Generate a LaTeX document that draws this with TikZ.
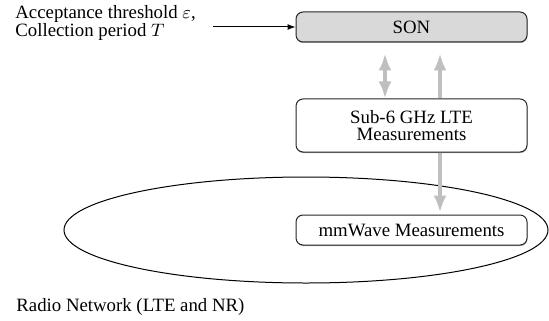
\documentclass[tikz,border=0pt]{standalone}
\usepackage{fontspec}
\setmainfont{Liberation Serif}
\usetikzlibrary{shapes.geometric,arrows.meta,shadows}
\begin{document}
\begin{tikzpicture}[x=0.5pt,y=-0.5pt,
  font=\fontsize{9.4}{8.9}\selectfont,
  box/.style={draw=black!85, rounded corners=3.5pt, minimum width=115.5pt, inner sep=0pt, align=center, line width=0.5pt,
    drop shadow={shadow xshift=0.2pt, shadow yshift=-0.5pt, opacity=0.5, fill=black!70}},
  garrow/.style={draw=black!25, line width=2pt},
  gtip/.tip={Latex[length=8.5pt,width=6.5pt,color=black!25]},
  ktip/.tip={Latex[length=4pt,width=3pt]}
  ]
\useasboundingbox (0,0) rectangle (549,320);
\node[box, fill=black!15, minimum height=15pt] (son) at (411.5,27) {SON};
\node[box, fill=white, minimum height=26.5pt] (sub) at (411.5,125.5) {Sub-6 GHz LTE\\Measurements};
\node[draw, ellipse, minimum width=242pt, minimum height=53pt, inner sep=0pt, line width=0.5pt] (net) at (306,230) {};
\node[box, fill=white, minimum height=15pt] (mm) at (411.5,230) {mmWave Measurements};
\node[anchor=west, inner sep=0pt] (radio) at (16,307) {Radio Network (LTE and NR)};
\node[anchor=west, inner sep=0pt, align=left] (inp) at (15,23) {Acceptance threshold $\varepsilon$,\\Collection period $T$};
\coordinate (inpend) at (213,27);
\coordinate (xa) at (385,0);
\coordinate (xb) at (440,0);
\draw[-ktip, line width=0.5pt] (inpend) -- (son.west);
\draw[garrow, gtip-gtip, shorten >=5.5pt] (sub.north -| xa) -- (son.south -| xa);
\draw[garrow, -gtip, shorten >=5.5pt] (sub.north -| xb) -- (son.south -| xb);
\draw[garrow, -gtip, shorten >=1pt] (sub.south -| xb) -- (mm.north -| xb);
\end{tikzpicture}
\end{document}
